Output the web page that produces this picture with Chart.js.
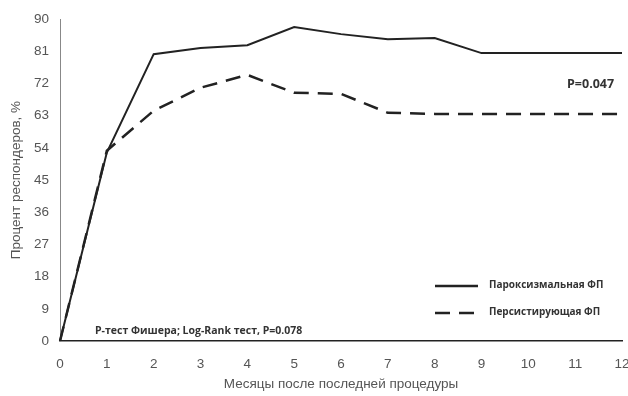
<!DOCTYPE html>
<html>
<head>
<meta charset="utf-8">
<script src="https://cdn.jsdelivr.net/npm/chart.js@4/dist/chart.umd.min.js"></script>
<style>
    html, body { margin: 0; padding: 0; background: #fff; }
    #wrap { width: 628px; height: 396px; }
</style>
</head>
<body>
<div id="wrap"><canvas id="respChart"></canvas></div>
<script>
// ===== Data =====
const months = ['0', '1', '2', '3', '4', '5', '6', '7', '8', '9', '10', '11', '12'];
const paroxValues = [0, 52.7, 80.2, 81.9, 82.7, 87.8, 85.8, 84.4, 84.7, 80.5, 80.5, 80.5, 80.5];
const persistValues = [0, 53.2, 64.4, 70.8, 74.4, 69.4, 69.1, 63.8, 63.5, 63.5, 63.5, 63.5, 63.5];
const yTicks = [0, 9, 18, 27, 36, 45, 54, 63, 72, 81, 90];
const seriesNames = ['Пароксизмальная ФП', 'Персистирующая ФП'];
const pSeries = 'P=0.047';
const pFisher = 'P-тест Фишера; Log-Rank тест, P=0.078';

// notes + legend drawn inside the plot area
const notesPlugin = {
    id: 'notes',
    afterDraw(chart) {
        const { ctx } = chart;
        ctx.save();
        ctx.fillStyle = '#333';
        ctx.font = 'bold 12.5px "Open Sans", sans-serif';
        ctx.textBaseline = 'middle';
        ctx.textAlign = 'left';
        ctx.fillText(pSeries, 567, 84);
        ctx.font = 'bold 10.5px "Open Sans", sans-serif';
        ctx.fillText(pFisher, 95, 331);

        // legend
        ctx.font = 'bold 10px "Open Sans", sans-serif';
        chart.data.datasets.forEach((ds, i) => {
            const y = 286 + i * 27;
            ctx.strokeStyle = ds.borderColor;
            ctx.lineWidth = 2.5;
            ctx.setLineDash(ds.borderDash || []);
            ctx.beginPath();
            ctx.moveTo(435, y);
            ctx.lineTo(478, y);
            ctx.stroke();
            ctx.setLineDash([]);
            ctx.fillStyle = '#333';
            ctx.fillText(ds.label, 489, y - 1);
        });
        ctx.restore();
    }
};

new Chart(document.getElementById('respChart'), {
    type: 'line',
    data: {
        labels: months,
        datasets: [
            { label: seriesNames[0], data: paroxValues, borderColor: '#222', borderWidth: 2, pointRadius: 0, tension: 0 },
            { label: seriesNames[1], data: persistValues, borderColor: '#222', borderWidth: 2.5, borderDash: [15, 9], pointRadius: 0, tension: 0 }
        ]
    },
    options: {
        responsive: true, maintainAspectRatio: false, animation: false,
        layout: { padding: { top: 18, right: 6, left: 4, bottom: 0 } },
        plugins: { legend: { display: false }, tooltip: { enabled: false } },
        scales: {
            x: {
                offset: false,
                grid: { display: false, drawTicks: false },
                border: { color: '#222', width: 1.5 },
                ticks: { color: '#555', font: { family: 'Liberation Sans', size: 13.5 }, padding: 15, maxRotation: 0 },
                title: { display: true, text: 'Месяцы после последней процедуры', color: '#555', font: { family: 'Liberation Sans', size: 13.5 }, padding: { top: 2 } },
                afterFit: s => { s.height = 55; s.paddingRight = 0; s.paddingLeft = 0; }
            },
            y: {
                min: 0, max: 90,
                afterBuildTicks: s => { s.ticks = yTicks.map(v => ({ value: v })); },
                grid: { display: false, drawTicks: false },
                border: { color: '#888', width: 1 },
                ticks: { color: '#555', font: { family: 'Liberation Sans', size: 13.5 }, padding: 11 },
                title: { display: true, text: 'Процент респондеров, %', color: '#555', font: { family: 'Liberation Sans', size: 13.5 }, padding: { bottom: 2 } },
                afterFit: s => { s.width = 56; }
            }
        }
    },
    plugins: [notesPlugin]
});
</script>
</body>
</html>
